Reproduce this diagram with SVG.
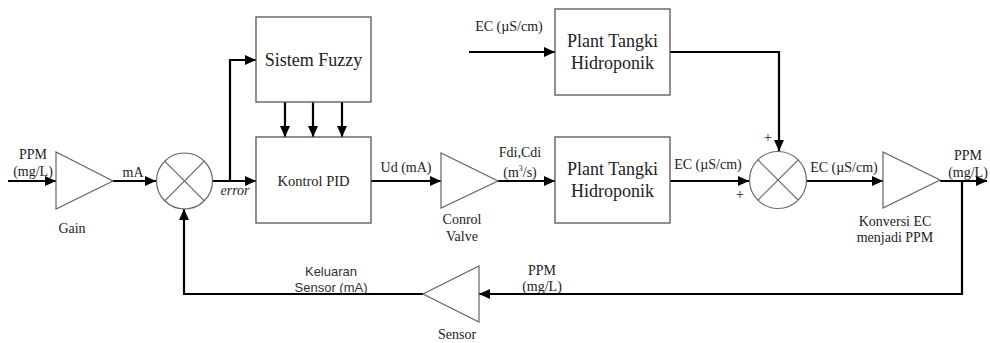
<svg xmlns="http://www.w3.org/2000/svg" width="990" height="343" viewBox="0 0 990 343">
<defs>
<marker id="ah" markerUnits="userSpaceOnUse" markerWidth="12" markerHeight="10" refX="11" refY="5" orient="auto">
<path d="M0,0 L11,5 L0,10 Z" fill="#000"/>
</marker>
<style>
.box{fill:#fff;stroke:#555;stroke-width:1.3}
.tri{fill:#fff;stroke:#666;stroke-width:1.2}
.sum{fill:#fff;stroke:#666;stroke-width:1.2}
.x{stroke:#666;stroke-width:1.2}
.a{fill:none;stroke:#000;stroke-width:2.2;marker-end:url(#ah)}
text{font-family:"Liberation Serif","Times New Roman",serif;fill:#222}
.big{font-size:18px;text-anchor:middle}
.mid{font-size:14.5px;text-anchor:middle}
.lab{font-size:14px;text-anchor:middle}
.sans{font-family:"Liberation Sans",Arial,sans-serif;font-size:13px;text-anchor:middle;fill:#333}
</style>
</defs>

<g id="connectors">
<path class="a" d="M8,181 H56"/>
<path class="a" d="M113,181 H156"/>
<path class="a" d="M213,181 H256"/>
<path class="a" d="M230,181 V60 H256"/>
<path class="a" d="M285,102 V137"/>
<path class="a" d="M313,102 V137"/>
<path class="a" d="M342,102 V137"/>
<path class="a" d="M371,181 H441"/>
<path class="a" d="M498,181 H555"/>
<path class="a" d="M469,52 H555"/>
<path class="a" d="M670,52 H779 V151"/>
<path class="a" d="M670,181 H749"/>
<path class="a" d="M807,181 H883"/>
<path class="a" d="M940,181 H987"/>
<path class="a" d="M962,181 V294 H479"/>
<path class="a" d="M423,294 H184 V209"/>
</g>

<g id="gain">
<polygon class="tri" points="56,152 56,209 113,181"/>
<text class="lab" x="72" y="233">Gain</text>
</g>

<g id="sum1">
<circle class="sum" cx="184.5" cy="181" r="28"/>
<line class="x" x1="164.7" y1="161.2" x2="204.3" y2="200.8"/>
<line class="x" x1="204.3" y1="161.2" x2="164.7" y2="200.8"/>
</g>

<g id="fuzzy">
<rect class="box" x="256" y="17" width="115" height="85"/>
<text class="big" x="313.5" y="66">Sistem Fuzzy</text>
</g>

<g id="pid">
<rect class="box" x="256" y="137" width="115" height="86"/>
<text class="mid" x="313.5" y="186">Kontrol PID</text>
</g>

<g id="valve">
<polygon class="tri" points="441,153 441,208 498,181"/>
<text class="lab" x="462" y="224">Conrol</text>
<text class="lab" x="462" y="241">Valve</text>
</g>

<g id="plant-top">
<rect class="box" x="555" y="9" width="115" height="86"/>
<text class="big" x="612.5" y="47">Plant Tangki</text>
<text class="big" x="612.5" y="69">Hidroponik</text>
</g>

<g id="plant-bottom">
<rect class="box" x="555" y="137" width="115" height="86"/>
<text class="big" x="612.5" y="175">Plant Tangki</text>
<text class="big" x="612.5" y="197">Hidroponik</text>
</g>

<g id="sum2">
<circle class="sum" cx="778" cy="180" r="28.5"/>
<line class="x" x1="757.8" y1="159.8" x2="798.2" y2="200.2"/>
<line class="x" x1="798.2" y1="159.8" x2="757.8" y2="200.2"/>
<text class="lab" x="768" y="142" fill="#222">+</text>
<text class="lab" x="740" y="199" fill="#222">+</text>
</g>

<g id="konversi">
<polygon class="tri" points="883,152 883,208 940,180"/>
<text class="lab" x="895" y="226">Konversi EC</text>
<text class="lab" x="895" y="242">menjadi PPM</text>
</g>

<g id="sensor">
<polygon class="tri" points="479,266 479,322 423,294"/>
<text class="lab" x="457" y="339">Sensor</text>
</g>

<g id="labels">
<text class="lab" x="33" y="159">PPM</text>
<text class="lab" x="33" y="176">(mg/L)</text>
<text class="lab" x="133" y="177">mA</text>
<text class="lab" x="235" y="195" font-style="italic">error</text>
<text class="lab" x="406" y="172">Ud (mA)</text>
<text class="lab" x="520" y="157">Fdi,Cdi</text>
<text class="lab" x="520" y="177">(m<tspan font-size="8" dy="-6">3</tspan><tspan dy="6">/s)</tspan></text>
<text class="lab" x="509" y="31">EC (µS/cm)</text>
<text class="lab" x="708" y="169">EC (µS/cm)</text>
<text class="lab" x="844" y="172">EC (µS/cm)</text>
<text class="lab" x="968" y="160">PPM</text>
<text class="lab" x="968" y="177">(mg/L)</text>
<text class="sans" x="331" y="276">Keluaran</text>
<text class="sans" x="331" y="292">Sensor (mA)</text>
<text class="lab" x="542" y="275">PPM</text>
<text class="lab" x="542" y="291">(mg/L)</text>
</g>
</svg>
